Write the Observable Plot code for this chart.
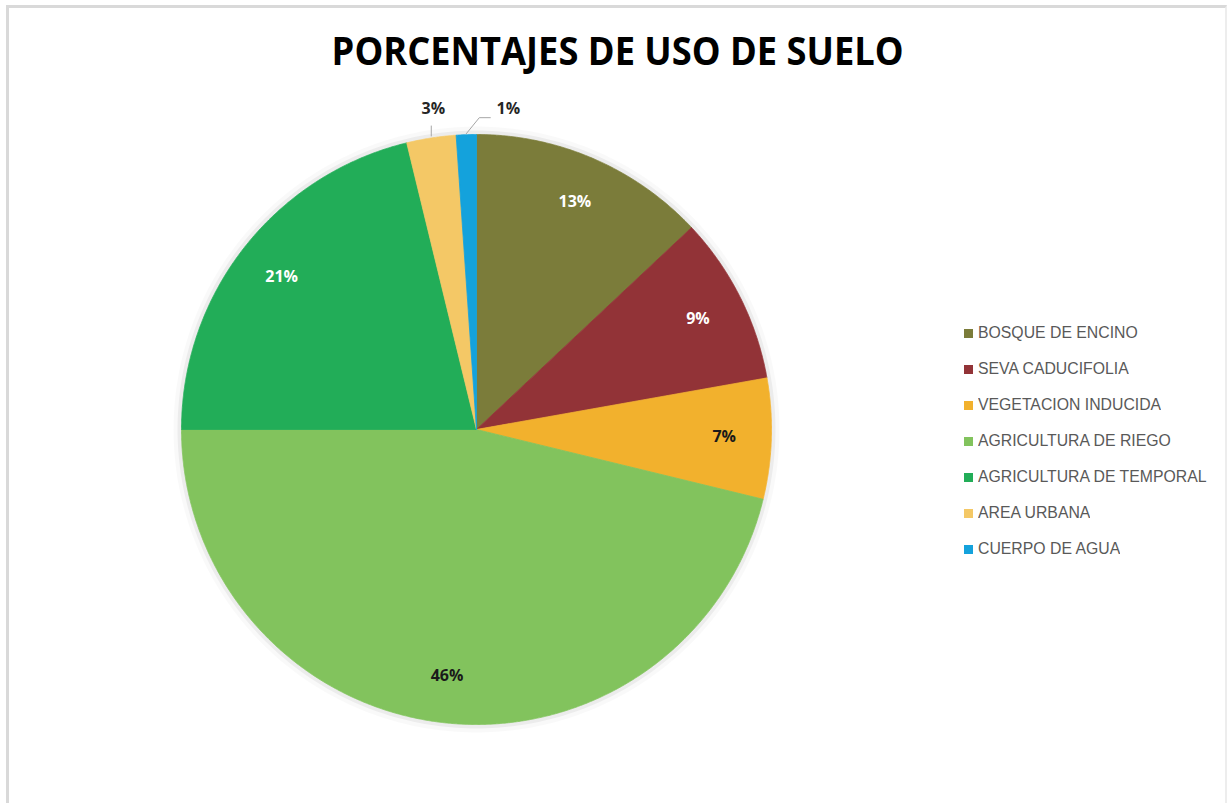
<!DOCTYPE html>
<html>
<head>
<meta charset="utf-8">
<script src="https://cdn.jsdelivr.net/npm/d3@7"></script>
<script src="https://cdn.jsdelivr.net/npm/@observablehq/plot@0.6"></script>
<style>
  html, body { margin: 0; padding: 0; background: #fff; }
  #wrap { position: relative; width: 1229px; height: 803px; overflow: hidden; background: #fff; }
  #chart { position: absolute; left: 0; top: 0; }
  #frame { position: absolute; left: 6px; top: 5px; width: 1221px; height: 820px;
           border: 3px solid #d9d9d9; border-right: 2px solid #ededed; box-sizing: border-box; }
  #title { position: absolute; left: 0; top: 25px; width: 1236px; text-align: center;
           font-family: "Open Sans", sans-serif; font-weight: 700; font-size: 39px;
           color: #000; white-space: nowrap; line-height: 50px; }
  #title span { display: inline-block; transform-origin: 50% 50%; }
  #legend { position: absolute; left: 964px; top: 315px; }
  div.lg-swatches { font-family: "Liberation Sans", Arial, sans-serif; font-size: 15.8px; color: #595959; margin: 0; }
  div.lg-swatches .lg-swatch { height: 36px; padding: 0; margin: 0; display: flex; align-items: center; line-height: 20px; }
  div.lg-swatches .lg-swatch svg { margin-right: 5px; }
</style>
</head>
<body>
<div id="wrap">
  <div id="chart"></div>
  <div id="frame"></div>
  <div id="title"><span>PORCENTAJES DE USO DE SUELO</span></div>
  <div id="legend"></div>
</div>
<script>
// ---- data ----
const names = ["BOSQUE DE ENCINO", "SEVA CADUCIFOLIA", "VEGETACION INDUCIDA", "AGRICULTURA DE RIEGO",
               "AGRICULTURA DE TEMPORAL", "AREA URBANA", "CUERPO DE AGUA"];
const values = [13.0, 9.2, 6.6, 46.2, 21.2, 2.7, 1.1];
const labels = ["13%", "9%", "7%", "46%", "21%", "3%", "1%"];
const colors = ["#7b7c3a", "#923337", "#f2b12d", "#82c35d", "#22ad58", "#f4c866", "#14a2dc"];

// ---- geometry (unit circle; scales map it to pixels) ----
const R = 295;                // pixel radius, used only to convert pixel offsets
const px = v => v / R;
const arcs = d3.pie().sort(null).value(d => d)(values);

const slicePts = [];
arcs.forEach((a, i) => {
  slicePts.push({name: names[i], x: 0, y: 0});
  const n = Math.max(4, Math.ceil((a.endAngle - a.startAngle) / 0.004));
  for (let k = 0; k <= n; k++) {
    const t = a.startAngle + (a.endAngle - a.startAngle) * k / n;
    slicePts.push({name: names[i], x: Math.sin(t), y: Math.cos(t)});
  }
  slicePts.push({name: names[i], x: 0, y: 0});
});

const ring = (r) => d3.range(0, 361, 1).map(deg => {
  const t = deg * Math.PI / 180;
  return {x: r * Math.sin(t), y: r * Math.cos(t)};
});

const inside = [], outside = [], leaders = [];
arcs.forEach((a, i) => {
  const m = (a.startAngle + a.endAngle) / 2;
  const c = d3.hsl(colors[i]);
  if (values[i] >= 5) {
    const f = 0.84;
    inside.push({label: labels[i], x: f * Math.sin(m), y: f * Math.cos(m),
                 fill: c.l < 0.5 ? "#ffffff" : "#1a1a1a"});
  } else {
    const ex = Math.sin(m), ey = Math.cos(m);
    const prev = outside[outside.length - 1];
    if (!prev) {
      // straight leader up
      leaders.push({id: i, x: ex, y: ey + px(2)}, {id: i, x: ex, y: ey + px(12)});
      outside.push({label: labels[i], x: ex + px(2), y: ey + px(29)});
    } else {
      // elbow leader to the right to avoid the neighbour
      const x1 = ex + px(13), y1 = ey + px(17);
      leaders.push({id: i, x: ex, y: ey + px(1)}, {id: i, x: x1, y: y1}, {id: i, x: x1 + px(11), y: y1});
      outside.push({label: labels[i], x: x1 + px(29), y: y1 + px(9)});
    }
  }
});

const chart = Plot.plot({
  width: 1229,
  height: 803,
  margin: 0,
  style: {background: "transparent", overflow: "visible"},
  x: {domain: [-1, 1], range: [476 - R, 476 + R], axis: null},
  y: {domain: [-1, 1], range: [429 + R, 429 - R], axis: null},
  color: {domain: names, range: colors},
  marks: [
    // soft shadow around the pie
    Plot.line(ring(1 + px(4)), {x: "x", y: "y", stroke: "#000", strokeOpacity: 0.025, strokeWidth: 8}),
    Plot.line(ring(1 + px(2)), {x: "x", y: "y", stroke: "#000", strokeOpacity: 0.05, strokeWidth: 4}),
    Plot.line(slicePts, {x: "x", y: "y", z: "name", fill: "name", stroke: "name", strokeWidth: 0.8}),
    Plot.line(leaders, {x: "x", y: "y", z: "id", stroke: "#a6a6a6", strokeWidth: 1}),
    Plot.text(inside, {x: "x", y: "y", text: "label", fill: "fill", fontSize: 16, fontWeight: 700,
                       fontFamily: "Open Sans, sans-serif"}),
    Plot.text(outside, {x: "x", y: "y", text: "label", fill: "#262626", fontSize: 16, fontWeight: 700,
                        fontFamily: "Open Sans, sans-serif"})
  ]
});
document.getElementById("chart").appendChild(chart);

const legend = Plot.legend({
  color: {type: "ordinal", domain: names, range: colors},
  legend: "swatches",
  columns: 1,
  swatchSize: 9,
  className: "lg"
});
document.getElementById("legend").appendChild(legend);

// fit the title to the reference width
const span = document.querySelector("#title span");
const w = span.getBoundingClientRect().width;
span.style.transform = `scaleX(${572 / w})`;
</script>
</body>
</html>
